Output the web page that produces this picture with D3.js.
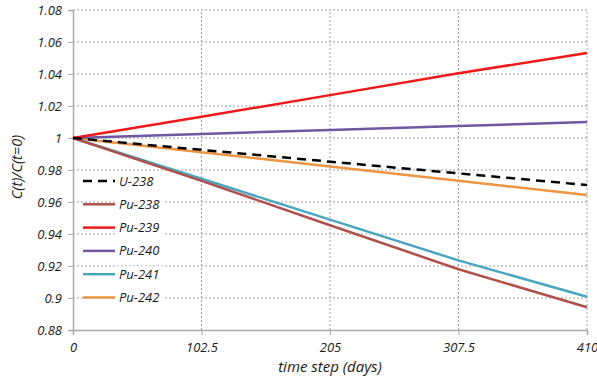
<!DOCTYPE html>
<html>
<head>
<meta charset="utf-8">
<script src="https://cdn.jsdelivr.net/npm/d3@7"></script>
<style>
body { margin: 0; background: #fff; }
text { font-family: "Open Sans", sans-serif; font-style: italic; }
</style>
</head>
<body>
<script>
var width = 597,
    height = 376,
    margin = {top: 10, right: 10, bottom: 46, left: 73};

// time steps (days)
var steps = [0, 102.5, 205, 307.5, 410];
var yTicks = [0.88, 0.9, 0.92, 0.94, 0.96, 0.98, 1, 1.02, 1.04, 1.06, 1.08];

var u238  = [1, 0.9926, 0.9852, 0.9779, 0.9706];
var pu238 = [1, 0.9732, 0.9455, 0.9180, 0.8942];
var pu239 = [1, 1.0133, 1.0268, 1.0405, 1.0531];
var pu240 = [1, 1.0025, 1.0050, 1.0075, 1.0100];
var pu241 = [1, 0.9745, 0.9490, 0.9235, 0.9008];
var pu242 = [1, 0.9911, 0.9822, 0.9733, 0.9644];

var series = [
    {name: "U-238", values: u238, color: "#000", dash: "9,6"},
    {name: "Pu-238", values: pu238, color: "#b0504c"},
    {name: "Pu-239", values: pu239, color: "#f01818"},
    {name: "Pu-240", values: pu240, color: "#7356a0"},
    {name: "Pu-241", values: pu241, color: "#4aa6bf"},
    {name: "Pu-242", values: pu242, color: "#ef9440"}
];

var svg = d3.select("body").append("svg")
    .attr("width", width)
    .attr("height", height);

var x = d3.scaleLinear().domain([0, 410]).range([margin.left, 587]);
var y = d3.scaleLinear().domain([0.88, 1.08]).range([330, 10]);

// grid
svg.append("g").selectAll("line")
    .data(yTicks.slice(1))
    .enter().append("line")
    .attr("x1", x(0)).attr("x2", x(410))
    .attr("y1", function(d) { return y(d); })
    .attr("y2", function(d) { return y(d); })
    .attr("stroke", "#a0a0a0").attr("stroke-width", 1)
    .attr("stroke-dasharray", "2,2");

svg.append("g").selectAll("line")
    .data(steps.slice(1))
    .enter().append("line")
    .attr("x1", function(d) { return x(d); })
    .attr("x2", function(d) { return x(d); })
    .attr("y1", y(0.88)).attr("y2", y(1.08))
    .attr("stroke", "#a0a0a0").attr("stroke-width", 1)
    .attr("stroke-dasharray", "2,2");

// axes
var yAxis = svg.append("g")
    .attr("transform", "translate(" + x(0) + ",0)")
    .call(d3.axisLeft(y).tickValues(yTicks).tickSize(5).tickPadding(6)
        .tickFormat(function(d) { return d3.format("")(+d.toFixed(2)); }));
var xAxis = svg.append("g")
    .attr("transform", "translate(0," + y(0.88) + ")")
    .call(d3.axisBottom(x).tickValues(steps).tickSize(5).tickPadding(8)
        .tickFormat(function(d) { return d; }));

[yAxis, xAxis].forEach(function(a) {
    a.select(".domain").attr("stroke", "#aaa").attr("stroke-width", 1.5);
    a.selectAll(".tick line").attr("stroke", "#aaa");
    a.selectAll("text").attr("font-size", 13).attr("fill", "#1a1a1a")
        .style("font-family", "'Open Sans', sans-serif").style("font-style", "italic");
});

// lines
var line = d3.line()
    .x(function(d, i) { return x(steps[i]); })
    .y(function(d) { return y(d); });

svg.append("g").selectAll("path")
    .data(series.slice().reverse())
    .enter().append("path")
    .attr("d", function(d) { return line(d.values); })
    .attr("fill", "none")
    .attr("stroke", function(d) { return d.color; })
    .attr("stroke-width", 2.5)
    .attr("stroke-dasharray", function(d) { return d.dash || null; });

// legend
var legend = svg.append("g").selectAll("g")
    .data(series)
    .enter().append("g")
    .attr("transform", function(d, i) { return "translate(83," + (181 + i * 23.3) + ")"; });

legend.append("line")
    .attr("x1", 0).attr("x2", 32)
    .attr("stroke", function(d) { return d.color; })
    .attr("stroke-width", 2.5)
    .attr("stroke-dasharray", function(d) { return d.dash || null; });

legend.append("rect")
    .attr("x", 33).attr("y", -8).attr("width", 48).attr("height", 16)
    .attr("fill", "#fff");

legend.append("text")
    .attr("x", 36).attr("dy", "0.35em")
    .attr("font-size", 13).attr("fill", "#1a1a1a")
    .text(function(d) { return d.name; });

// axis titles
svg.append("text")
    .attr("x", x(205)).attr("y", 372)
    .attr("text-anchor", "middle")
    .attr("font-size", 15).attr("fill", "#1a1a1a")
    .text("time step (days)");

svg.append("text")
    .attr("transform", "translate(22,167) rotate(-90)")
    .attr("text-anchor", "middle")
    .attr("font-size", 14.5).attr("fill", "#1a1a1a")
    .text("C(t)/C(t=0)");
</script>
</body>
</html>
